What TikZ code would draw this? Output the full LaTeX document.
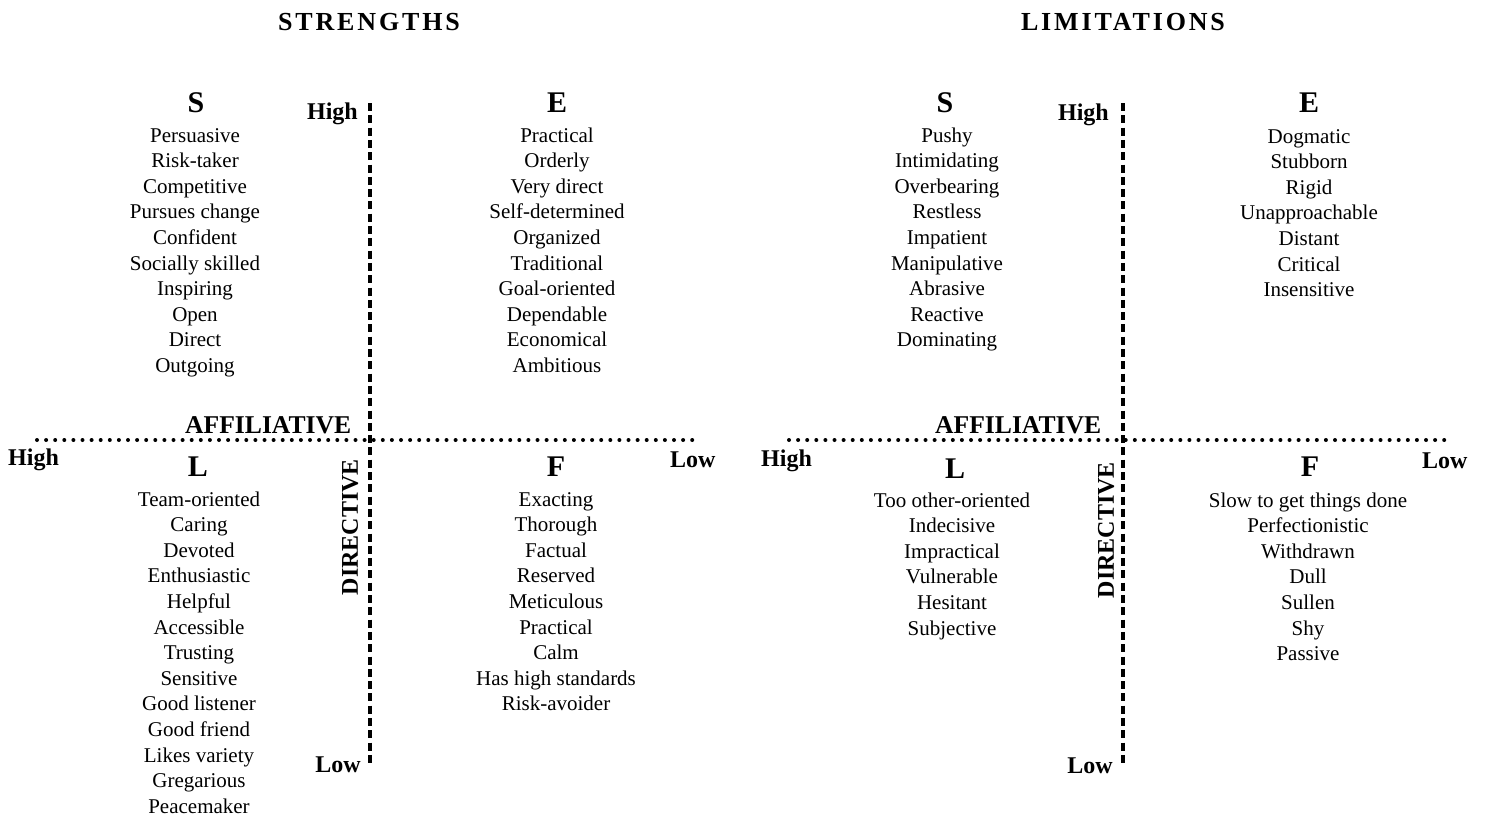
\documentclass[tikz,border=0pt]{standalone}
\usepackage{fontspec}
\setmainfont{Liberation Serif}
\tikzset{
  word/.style={font=\fontsize{21}{25.6}\selectfont, anchor=base, inner sep=0pt},
  hdr/.style={font=\fontsize{30}{36}\selectfont\bfseries, anchor=base, inner sep=0pt},
  ttl/.style={font=\fontsize{26}{30}\selectfont\bfseries\addfontfeature{LetterSpace=11}, anchor=base, inner sep=0pt},
  axlbl/.style={font=\fontsize{24}{28}\selectfont\bfseries, inner sep=0pt},
  afl/.style={font=\fontsize{25.6}{30}\selectfont\bfseries, inner sep=0pt},
  dashax/.style={line width=4.3pt, dash pattern=on 8pt off 4.3pt},
  dotax/.style={line width=4pt, line cap=round, dash pattern=on 0pt off 9.1pt},
}
\newcommand\wlist[4]{\foreach \w [count=\i from 0] in {#4} {\node[word] (#1-\i) at (#2, #3+\i*25.6) {\w};}}
\begin{document}
\begin{tikzpicture}[x=1pt,y=-1pt]
\useasboundingbox (0,0) rectangle (1487,817);
% titles
\node[ttl] (t1) at (369,30) {STRENGTHS};
\node[ttl] (t2) at (1123,30) {LIMITATIONS};
% ---------- left diagram ----------
\coordinate (lvt) at (370,103);
\coordinate (lvb) at (370,767);
\coordinate (lhl) at (37,440);
\coordinate (lhr) at (700,440);
\draw[dashax] (lvt) -- (lvb);
\draw[dotax] (lhl) -- (lhr);
\node[axlbl, anchor=base east] (lhigh1) at (358,119) {High};
\node[axlbl, anchor=base east] (llow1) at (361,772) {Low};
\node[axlbl, anchor=base west] (lhigh2) at (8,465) {High};
\node[axlbl, anchor=base west] (llow2) at (670,467) {Low};
\node[afl, anchor=base west] (laff) at (185,433) {AFFILIATIVE};
\node[axlbl, rotate=90] (ldir) at (350,527) {DIRECTIVE};
\node[hdr] (lS) at (196,112) {S};
\node[hdr] (lE) at (557,112) {E};
\node[hdr] (lL) at (198,476) {L};
\node[hdr] (lF) at (556,476) {F};
\wlist{ls}{195}{142}{Persuasive,Risk-taker,Competitive,Pursues change,Confident,Socially skilled,Inspiring,Open,Direct,Outgoing}
\wlist{le}{557}{142}{Practical,Orderly,Very direct,Self-determined,Organized,Traditional,Goal-oriented,Dependable,Economical,Ambitious}
\wlist{ll}{199}{506}{Team-oriented,Caring,Devoted,Enthusiastic,Helpful,Accessible,Trusting,Sensitive,Good listener,Good friend,Likes variety,Gregarious,Peacemaker}
\wlist{lf}{556}{506}{Exacting,Thorough,Factual,Reserved,Meticulous,Practical,Calm,Has high standards,Risk-avoider}
% ---------- right diagram ----------
\coordinate (rvt) at (1123,103);
\coordinate (rvb) at (1123,767);
\coordinate (rhl) at (789,440);
\coordinate (rhr) at (1452,440);
\draw[dashax] (rvt) -- (rvb);
\draw[dotax] (rhl) -- (rhr);
\node[axlbl, anchor=base east] (rhigh1) at (1109,120) {High};
\node[axlbl, anchor=base east] (rlow1) at (1113,773) {Low};
\node[axlbl, anchor=base west] (rhigh2) at (761,466) {High};
\node[axlbl, anchor=base west] (rlow2) at (1422,468) {Low};
\node[afl, anchor=base west] (raff) at (935,433) {AFFILIATIVE};
\node[axlbl, rotate=90] (rdir) at (1106,530) {DIRECTIVE};
\node[hdr] (rS) at (945,112) {S};
\node[hdr] (rE) at (1309,112) {E};
\node[hdr] (rL) at (955,478) {L};
\node[hdr] (rF) at (1310,476) {F};
\wlist{rs}{947}{142}{Pushy,Intimidating,Overbearing,Restless,Impatient,Manipulative,Abrasive,Reactive,Dominating}
\wlist{re}{1309}{143}{Dogmatic,Stubborn,Rigid,Unapproachable,Distant,Critical,Insensitive}
\wlist{rl}{952}{507}{Too other-oriented,Indecisive,Impractical,Vulnerable,Hesitant,Subjective}
\wlist{rf}{1308}{507}{Slow to get things done,Perfectionistic,Withdrawn,Dull,Sullen,Shy,Passive}
\end{tikzpicture}
\end{document}
